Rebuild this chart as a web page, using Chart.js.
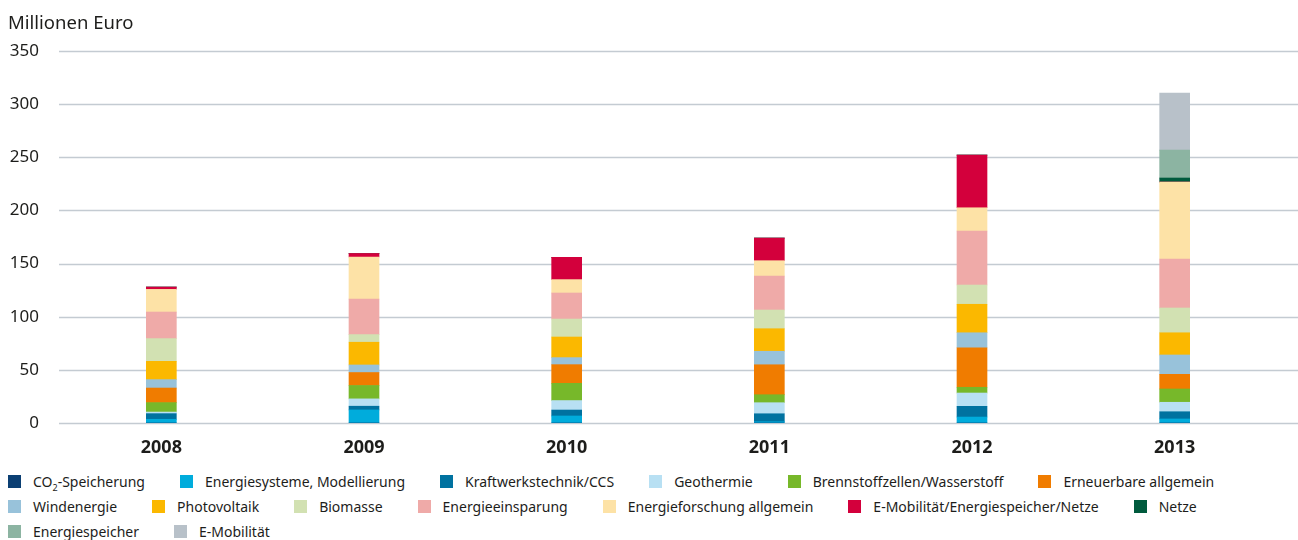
<!DOCTYPE html>
<html lang="de">
<head>
<meta charset="utf-8">
<title>Millionen Euro</title>
<script src="https://cdn.jsdelivr.net/npm/chart.js@4.4.1/dist/chart.umd.min.js"></script>
<style>
  html, body { margin: 0; padding: 0; background: #fff; }
  body { font-family: "Noto Sans", sans-serif; color: #1d1d1b; }
  #wrap { position: relative; width: 1298px; height: 540px; overflow: hidden; }
  #title { position: absolute; left: 8px; top: 9px; font-size: 18.5px; line-height: 26px; }
  #chart-box { position: absolute; left: 0; top: 0; width: 1298px; height: 460px; }
  #legend { position: absolute; left: 8px; top: 469px; width: 1290px;
            display: flex; flex-wrap: wrap; font-size: 14px; line-height: 25px; }
  .legend-item { display: flex; align-items: center; margin-right: 35px; white-space: nowrap; }
  .legend-box { width: 13px; height: 13px; margin-right: 12px; flex: none; }
</style>
</head>
<body>
<div id="wrap">
  <div id="chart-box"><canvas id="funding-chart"></canvas></div>
  <div id="title">Millionen Euro</div>
  <div id="legend"></div>
</div>
<script>
// Kategorien und Werte (Millionen Euro)
const years = ['2008', '2009', '2010', '2011', '2012', '2013'];
const yTicks = [0, 50, 100, 150, 200, 250, 300, 350];

const co2Speicherung     = [0, 0, 0, 0, 0, 0];
const energiesysteme     = [3.5, 12.3, 6.6, 1.2, 5.6, 3.8];
const kraftwerkstechnik  = [5.3, 3.5, 5.6, 7.5, 10.1, 6.8];
const geothermie         = [1.5, 6.9, 8.9, 10.4, 12.5, 8.9];
const brennstoffzellen   = [8.9, 12.6, 16.2, 7.5, 5.4, 12.5];
const erneuerbare        = [13.7, 12.2, 17.6, 28.2, 37.2, 13.8];
const windenergie        = [7.9, 7.1, 6.6, 12.7, 14.1, 18.2];
const photovoltaik       = [17.2, 21.4, 19.4, 21.2, 26.8, 20.9];
const biomasse           = [21.4, 7.2, 16.9, 17.6, 18.1, 23.3];
const energieeinsparung  = [25.0, 33.3, 24.5, 32.0, 50.8, 46.1];
const energieforschung   = [21.3, 39.7, 12.6, 14.4, 21.9, 72.4];
const eMobSpeicherNetze  = [2.2, 3.3, 21.0, 21.3, 49.6, 0];
const netze              = [0, 0, 0, 0, 0, 3.8];
const energiespeicher    = [0, 0, 0, 0, 0, 26.3];
const eMobilitaet        = [0, 0, 0, 0, 0, 53.6];

const seriesLabels = [
    'CO₂-Speicherung', 'Energiesysteme, Modellierung', 'Kraftwerkstechnik/CCS',
    'Geothermie', 'Brennstoffzellen/Wasserstoff', 'Erneuerbare allgemein',
    'Windenergie', 'Photovoltaik', 'Biomasse', 'Energieeinsparung',
    'Energieforschung allgemein', 'E-Mobilität/Energiespeicher/Netze',
    'Netze', 'Energiespeicher', 'E-Mobilität'
];
const seriesValues = [
    co2Speicherung, energiesysteme, kraftwerkstechnik, geothermie, brennstoffzellen,
    erneuerbare, windenergie, photovoltaik, biomasse, energieeinsparung,
    energieforschung, eMobSpeicherNetze, netze, energiespeicher, eMobilitaet
];
const seriesColors = [
    '#0b3f73', '#00acdc', '#0072a0', '#b8e0f3', '#77b82a', '#f07c00',
    '#98c2da', '#fbb800', '#d2e1b2', '#efaaa8', '#fde2a6', '#d3003c',
    '#005a3d', '#8cb4a2', '#b8c1c9'
];

// horizontale Gitterlinien laufen bis zum rechten Rand
const fullWidthGrid = {
    id: 'fullWidthGrid',
    beforeDatasetsDraw(chart) {
        const ctx = chart.ctx;
        const y = chart.scales.y;
        ctx.save();
        ctx.strokeStyle = '#c4cbd2';
        ctx.lineWidth = 1.5;
        yTicks.forEach(v => {
            const py = Math.round(y.getPixelForValue(v)) + 0.5;
            ctx.beginPath();
            ctx.moveTo(chart.chartArea.left - 1, py);
            ctx.lineTo(chart.width, py);
            ctx.stroke();
        });
        ctx.restore();
    }
};

const datasets = seriesLabels.map((label, i) => ({
    label: label,
    data: seriesValues[i],
    backgroundColor: seriesColors[i],
    borderWidth: 0,
    barThickness: 30
}));

new Chart(document.getElementById('funding-chart'), {
    type: 'bar',
    data: { labels: years, datasets: datasets },
    options: {
        responsive: true,
        maintainAspectRatio: false,
        animation: false,
        layout: { padding: { top: 51, right: 22, left: 0, bottom: 0 } },
        plugins: {
            legend: { display: false },
            tooltip: { enabled: false }
        },
        scales: {
            x: {
                stacked: true,
                grid: { display: false },
                border: { display: false },
                ticks: {
                    color: '#1d1d1b',
                    padding: 6,
                    font: { family: 'Noto Sans', size: 18, weight: 'bold' }
                },
                afterFit(scale) { scale.height = 37; }
            },
            y: {
                stacked: true,
                min: 0,
                max: 350,
                grid: { display: false, drawTicks: false },
                border: { display: false },
                afterBuildTicks(scale) { scale.ticks = yTicks.map(v => ({ value: v })); },
                ticks: {
                    color: '#1d1d1b',
                    padding: 21,
                    font: { family: 'Noto Sans', size: 17 }
                },
                afterFit(scale) { scale.width = 60; }
            }
        }
    },
    plugins: [fullWidthGrid]
});

// Legende als HTML
const legendEl = document.getElementById('legend');
seriesLabels.forEach((label, i) => {
    const item = document.createElement('div');
    item.className = 'legend-item';
    const box = document.createElement('span');
    box.className = 'legend-box';
    box.style.background = seriesColors[i];
    const text = document.createElement('span');
    if (label.startsWith('CO₂')) {
        text.innerHTML = 'CO<sub style="font-size:9px;line-height:0">2</sub>-Speicherung';
    } else {
        text.textContent = label;
    }
    item.appendChild(box);
    item.appendChild(text);
    legendEl.appendChild(item);
});
</script>
</body>
</html>
